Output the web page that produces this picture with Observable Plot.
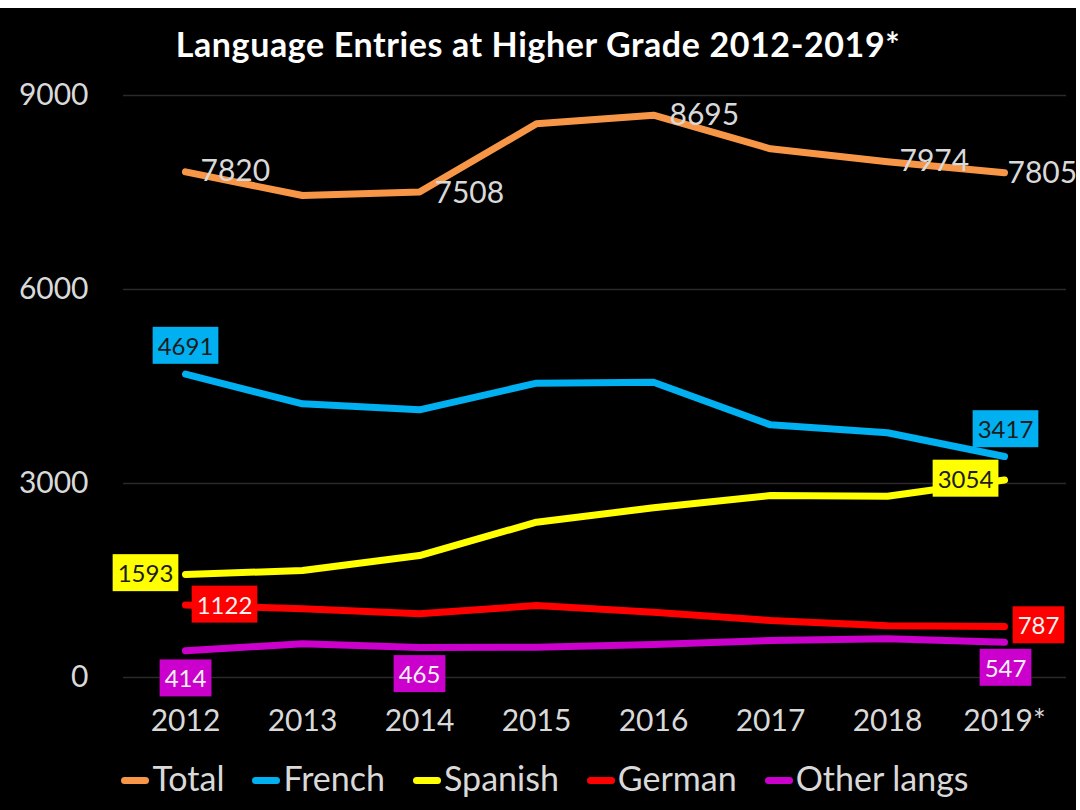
<!DOCTYPE html>
<html><head><meta charset="utf-8">
<script src="https://cdn.jsdelivr.net/npm/d3@7"></script>
<script src="https://cdn.jsdelivr.net/npm/@observablehq/plot@0.6"></script>
<style>
html,body{margin:0;padding:0;background:#fff;width:1080px;height:810px;overflow:hidden;font-family:Lato,"Open Sans",sans-serif}
#frame{position:absolute;left:0;top:8px;width:1076px;height:802px;background:#000}
#title{position:absolute;left:0;top:18px;width:1076px;text-align:center;color:#fff;font-weight:700;font-size:34px;line-height:36px;letter-spacing:0.6px}
#chart{position:absolute;left:0;top:62px}
#legend{position:absolute;left:14px;top:752px;width:1062px;height:36px;line-height:36px;text-align:center;color:#d9d9d9;font-size:34px;white-space:nowrap}
.item{display:inline-block;margin:0 14px}
.sw{display:inline-block;width:28px;height:7px;border-radius:4px;vertical-align:middle;margin-right:3px;position:relative;top:-2px}
</style></head>
<body>
<div id="frame">
  <div id="title">Language Entries at Higher Grade 2012-2019*</div>
  <div id="chart"></div>
  <div id="legend"></div>
</div>
<script>
const years = ["2012","2013","2014","2015","2016","2017","2018","2019*"];
const seriesNames = ["Total","French","Spanish","German","Other langs"];
const totalValues   = [7820, 7453, 7508, 8562, 8695, 8175, 7974, 7805];
const frenchValues  = [4691, 4232, 4139, 4551, 4567, 3907, 3784, 3417];
const spanishValues = [1593, 1655, 1886, 2402, 2624, 2814, 2804, 3054];
const germanValues  = [1122, 1062, 985, 1113, 1010, 881, 800, 787];
const otherValues   = [414, 521, 465, 469, 510, 572, 598, 547];
const yTicks = [0, 3000, 6000, 9000];

const colors = ["#f79646", "#00b0f0", "#ffff00", "#ff0000", "#cc00cc"];
const valuesBySeries = {"Total": totalValues, "French": frenchValues, "Spanish": spanishValues, "German": germanValues, "Other langs": otherValues};

const rows = [];
seriesNames.forEach(s => years.forEach((y, i) => rows.push({series: s, year: y, value: valuesBySeries[s][i]})));
const getRow = (s, y) => rows.find(r => r.series === s && r.year === y);

// label placement (style), values come from data arrays
const labelSpecs = [
  {s:"Total", y:"2012", dx:15, dy:0},
  {s:"Total", y:"2014", dx:15, dy:1},
  {s:"Total", y:"2016", dx:16, dy:0},
  {s:"Total", y:"2018", dx:12, dy:0},
  {s:"Total", y:"2019*", dx:3, dy:1},
  {s:"French", y:"2012", dx:0, dy:-27, box:true},
  {s:"French", y:"2019*", dx:1, dy:-26, box:true},
  {s:"Spanish", y:"2012", dx:-40, dy:0, box:true},
  {s:"Spanish", y:"2019*", dx:-39, dy:0, box:true},
  {s:"German", y:"2012", dx:39, dy:1, box:true},
  {s:"German", y:"2019*", dx:34, dy:0, box:true},
  {s:"Other langs", y:"2012", dx:0, dy:29, box:true},
  {s:"Other langs", y:"2014", dx:0, dy:28, box:true},
  {s:"Other langs", y:"2019*", dx:1, dy:27, box:true}
];
const boxText = {"French":"#1c1c1c","Spanish":"#1c1c1c","German":"#f2f2f2","Other langs":"#f2f2f2"};

const labelMarks = labelSpecs.map(l => {
  const r = getRow(l.s, l.y);
  return Plot.text([r], {
    x: "year", y: "value", text: d => String(d.value),
    dx: l.dx, dy: l.dy,
    textAnchor: l.box ? "middle" : "start",
    fill: l.box ? boxText[l.s] : "#d9d9d9",
    fontSize: l.box ? 24 : 30,
    ariaDescription: l.box ? "boxlabel" : "plainlabel"
  });
});

const plot = Plot.plot({
  width: 1076, height: 680,
  marginTop: 25, marginBottom: 73, marginLeft: 123, marginRight: 10,
  style: {background: "#000", color: "#d9d9d9", fontFamily: "Lato, 'Open Sans', sans-serif"},
  x: {type: "point", domain: years, padding: 0.5},
  y: {domain: [0, 9000]},
  color: {domain: seriesNames, range: colors},
  marks: [
    Plot.ruleY(yTicks, {stroke: "#2a2a2a", strokeWidth: 1.5}),
    Plot.axisY({ticks: yTicks, tickSize: 0, tickPadding: 35, fontSize: 30, label: null, tickFormat: d => String(d)}),
    Plot.axisX({tickSize: 0, tickPadding: 32, fontSize: 30, label: null}),
    Plot.line(rows, {x: "year", y: "value", z: "series", stroke: "series", strokeWidth: 7, strokeLinecap: "round", strokeLinejoin: "round"}),
    ...labelMarks
  ]
});
document.getElementById("chart").appendChild(plot);

// boxes behind the boxed labels
const boxSpecs = labelSpecs.filter(l => l.box);
document.querySelectorAll('g[aria-description="boxlabel"]').forEach((g, i) => {
  const t = g.querySelector("text");
  const bb = t.getBBox();
  const rect = document.createElementNS("http://www.w3.org/2000/svg", "rect");
  const cy = bb.y + bb.height / 2;
  rect.setAttribute("x", bb.x - 5);
  rect.setAttribute("y", cy - 18.5);
  rect.setAttribute("width", bb.width + 10);
  rect.setAttribute("height", 37);
  rect.setAttribute("fill", colors[seriesNames.indexOf(boxSpecs[i].s)]);
  if (t.getAttribute("transform")) rect.setAttribute("transform", t.getAttribute("transform"));
  g.insertBefore(rect, t);
});

// legend
const lg = document.getElementById("legend");
seriesNames.forEach((s, i) => {
  const it = document.createElement("span");
  it.className = "item";
  const sw = document.createElement("span");
  sw.className = "sw";
  sw.style.background = colors[i];
  it.appendChild(sw);
  it.appendChild(document.createTextNode(s));
  lg.appendChild(it);
});
</script>
</body></html>
